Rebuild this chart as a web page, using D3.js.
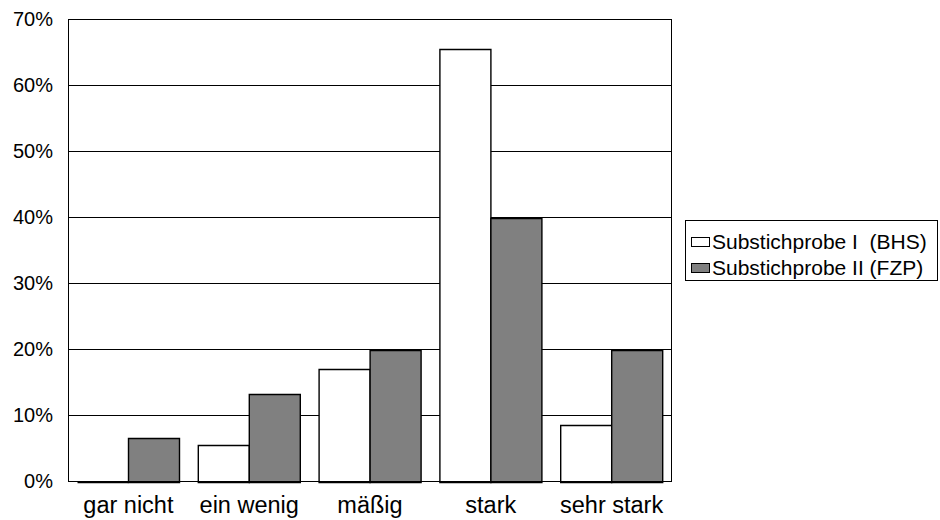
<!DOCTYPE html>
<html>
<head>
<meta charset="utf-8">
<script src="https://cdn.jsdelivr.net/npm/d3@7"></script>
<style>
  html, body { margin: 0; padding: 0; background: #fff; }
  svg { display: block; }
  text { font-family: "Liberation Sans", Arial, sans-serif; fill: #000; }
</style>
</head>
<body>
<svg id="chart" width="940" height="520"></svg>
<script>
const categories = ["gar nicht", "ein wenig", "mäßig", "stark", "sehr stark"];
const seriesNames = ["Substichprobe I  (BHS)", "Substichprobe II (FZP)"];
const seriesI = [0, 5.6, 17.0, 65.6, 8.6];
const seriesII = [6.6, 13.2, 19.9, 39.9, 19.9];
const yTicks = [0, 10, 20, 30, 40, 50, 60, 70];
const seriesColors = ["#ffffff", "#808080"];

const svg = d3.select("#chart");
const pLeft = 68, pRight = 672, pTop = 19.5, pBottom = 481.5;

const x = d3.scaleBand().domain(categories).range([pLeft, pRight]).padding(0);
const xs = d3.scaleBand().domain([0, 1]).range([0, x.bandwidth()]).paddingInner(0).paddingOuter(0.184);
const y = d3.scaleLinear().domain([0, 70]).range([pBottom, pTop]);

// gridlines
svg.append("g").selectAll("line").data(yTicks).join("line")
  .attr("x1", pLeft).attr("x2", pRight)
  .attr("y1", d => y(d)).attr("y2", d => y(d))
  .attr("stroke", "#000").attr("stroke-width", 1);

// bars (paths so that zero-height bars still show their outline)
const data = categories.map((c, i) => ({ c, vals: [seriesI[i], seriesII[i]] }));
const groups = svg.append("g").selectAll("g").data(data).join("g")
  .attr("transform", d => `translate(${x(d.c)},0)`);
groups.selectAll("path").data(d => d.vals.map((v, k) => ({ v, k }))).join("path")
  .attr("d", d => {
    const x0 = Math.round(xs(d.k)) + 0.5;
    const x1 = x0 + Math.round(xs.bandwidth());
    const y0 = Math.round(y(0)) + 0.5;
    const y1 = Math.round(y(d.v)) + 0.5;
    return `M${x0},${y0}V${y1}H${x1}V${y0}Z`;
  })
  .attr("fill", d => seriesColors[d.k])
  .attr("stroke", "#000").attr("stroke-width", 1.4);

// plot frame
svg.append("rect")
  .attr("x", pLeft + 0.5).attr("y", pTop)
  .attr("width", pRight - pLeft - 1).attr("height", pBottom - pTop)
  .attr("fill", "none").attr("stroke", "#000").attr("stroke-width", 1);

// y axis labels
const yAxis = d3.axisLeft(y).tickValues(yTicks).tickFormat(d => d + "%").tickSize(0).tickPadding(15);
const ya = svg.append("g").attr("transform", `translate(${pLeft},0)`).call(yAxis);
ya.select(".domain").remove();
ya.selectAll("text").attr("font-size", 20).attr("font-family", '"Liberation Sans", Arial, sans-serif').attr("fill", "#000");

// x axis labels
const xAxis = d3.axisBottom(x).tickSize(0).tickPadding(15);
const xa = svg.append("g").attr("transform", `translate(0,${pBottom})`).call(xAxis);
xa.select(".domain").remove();
xa.selectAll("text").attr("font-size", 23.5).attr("font-family", '"Liberation Sans", Arial, sans-serif').attr("fill", "#000");

// legend
const lg = svg.append("g");
lg.append("rect").attr("x", 685.5).attr("y", 220.5).attr("width", 252).attr("height", 60)
  .attr("fill", "#fff").attr("stroke", "#000").attr("stroke-width", 1);
const items = lg.selectAll("g.item").data(seriesNames).join("g").attr("class", "item")
  .attr("transform", (d, i) => `translate(0,${242 + i * 26})`);
items.append("rect").attr("x", 691.5).attr("y", -4.5).attr("width", 18).attr("height", 9)
  .attr("fill", (d, i) => seriesColors[i]).attr("stroke", "#000").attr("stroke-width", 1);
items.append("text").attr("x", 712).attr("y", 0).attr("dy", "0.35em")
  .attr("font-size", 21).style("white-space", "pre").text(d => d);
</script>
</body>
</html>
